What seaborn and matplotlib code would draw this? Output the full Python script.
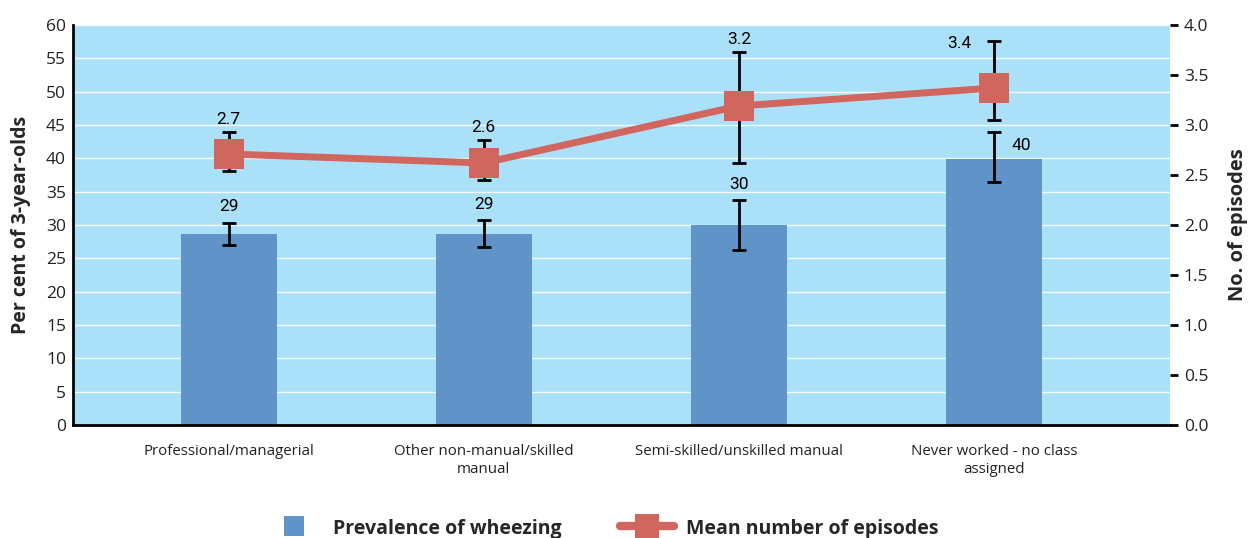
import matplotlib
matplotlib.use("Agg")
import matplotlib.pyplot as plt
import seaborn as sns
import numpy as np
import pandas as pd
from matplotlib import font_manager as fm
from matplotlib.lines import Line2D

categories = ["Professional/managerial", "Other non-manual/skilled\nmanual",
              "Semi-skilled/unskilled manual", "Never worked - no class\nassigned"]
prevalence = [28.7, 28.7, 30.0, 39.9]
prev_low = [27.0, 26.7, 26.3, 36.5]
prev_high = [30.3, 30.7, 33.7, 44.0]
prev_labels = ["29", "29", "30", "40"]

episodes = [2.71, 2.62, 3.19, 3.37]
ep_low = [2.54, 2.45, 2.62, 3.05]
ep_high = [2.93, 2.85, 3.73, 3.84]
ep_labels = ["2.7", "2.6", "3.2", "3.4"]

left_ticks = list(range(0, 61, 5))
right_ticks = [0.0, 0.5, 1.0, 1.5, 2.0, 2.5, 3.0, 3.5, 4.0]

sns.set_theme(style="white")
names = {f.name for f in fm.fontManager.ttflist}
main_font = ["Open Sans", "DejaVu Sans"]
narrow = ["Liberation Sans Narrow", "Roboto", "DejaVu Sans"] if "Liberation Sans Narrow" in names else ["Roboto", "DejaVu Sans"]
plt.rcParams['font.family'] = main_font

BG = "#ABE0F9"
BAR = "#6094C8"
LINE = "#D0665E"

fig = plt.figure(figsize=(12.5, 5.38), dpi=100)
ax = fig.add_axes([73/1250, 1-425/538, (1170-73)/1250, 400/538])
ax.set_facecolor(BG)

df = pd.DataFrame({"cat": categories, "prev": prevalence})
sns.barplot(data=df, x="cat", y="prev", color=BAR, width=0.376, saturation=1,
            ax=ax, zorder=2, errorbar=None, linewidth=0, edgecolor="none")
x = np.arange(len(categories))
yerr = [np.array(prevalence) - np.array(prev_low), np.array(prev_high) - np.array(prevalence)]
ax.errorbar(x, prevalence, yerr=yerr, fmt="none", ecolor="black", elinewidth=2,
            capsize=5, capthick=2, zorder=3)
ax.set_ylim(0, 60)
ax.set_xlim(-0.61, 3.69)
ax.set_yticks(left_ticks)
ax.yaxis.grid(True, color="white", linewidth=1.0, alpha=0.85, zorder=0)
ax.set_axisbelow(True)
ax.tick_params(axis="y", length=0, labelsize=12.5, pad=5, colors="#222222")
ax.tick_params(axis="x", length=0, labelsize=10.8, pad=14, colors="#222222")
ax.set_xlabel("")
ax.set_ylabel("Per cent of 3-year-olds", fontsize=14, fontweight="bold", labelpad=11)
for s in ["top", "right"]:
    ax.spines[s].set_visible(False)
for s in ["left", "bottom"]:
    ax.spines[s].set_color("black")
    ax.spines[s].set_linewidth(2)

for i in range(len(categories)):
    if i == 3:
        ax.text(x[i] + 0.07, prev_high[i] - 2.0, prev_labels[i], ha="left", va="center",
                fontsize=12.5, family=narrow, color="black", zorder=5)
    else:
        ax.text(x[i], prev_high[i] + 1.3, prev_labels[i], ha="center", va="bottom",
                fontsize=12.5, family=narrow, color="black", zorder=5)

ax2 = ax.twinx()
ax2.patch.set_visible(False)
sns.lineplot(x=x, y=episodes, ax=ax2, color=LINE, linewidth=5, marker="s",
             markersize=22, markeredgewidth=0, zorder=4)
yerr2 = [np.array(episodes) - np.array(ep_low), np.array(ep_high) - np.array(episodes)]
ax2.errorbar(x, episodes, yerr=yerr2, fmt="none", ecolor="black", elinewidth=2,
             capsize=5, capthick=2, zorder=3)
ax2.set_ylim(0, 4)
ax2.set_yticks(right_ticks)
ax2.set_yticklabels([f"{t:.1f}" for t in right_ticks])
ax2.tick_params(axis="y", length=6, width=2, color="black", labelsize=12.5, pad=4,
                labelcolor="#222222")
ax2.set_ylabel("No. of episodes", fontsize=14.5, fontweight="bold", labelpad=14)
for s in ["top", "right", "left", "bottom"]:
    ax2.spines[s].set_visible(False)
for i in range(len(categories)):
    if i == 3:
        ax2.text(x[i] - 0.09, ep_high[i] - 0.02, ep_labels[i], ha="right", va="center",
                 fontsize=12.5, family=narrow, color="black", zorder=5)
    else:
        ax2.text(x[i], ep_high[i] + 0.05, ep_labels[i], ha="center", va="bottom",
                 fontsize=12.5, family=narrow, color="black", zorder=5)

handles = [Line2D([0], [0], color=BAR, linewidth=0, marker="s", markersize=14,
                  markeredgewidth=0),
           Line2D([0], [0], color=LINE, linewidth=6, marker="s", markersize=17,
                  markeredgewidth=0)]
leg = fig.legend(handles, ["Prevalence of wheezing", "Mean number of episodes"],
                 loc="lower center", bbox_to_anchor=(0.482, -0.035), ncol=2, frameon=False,
                 prop={"size": 14, "weight": "bold"}, handlelength=2.8, columnspacing=3.0,
                 handleheight=1.2, handletextpad=0.6)

fig.savefig("out.png", dpi=100)
